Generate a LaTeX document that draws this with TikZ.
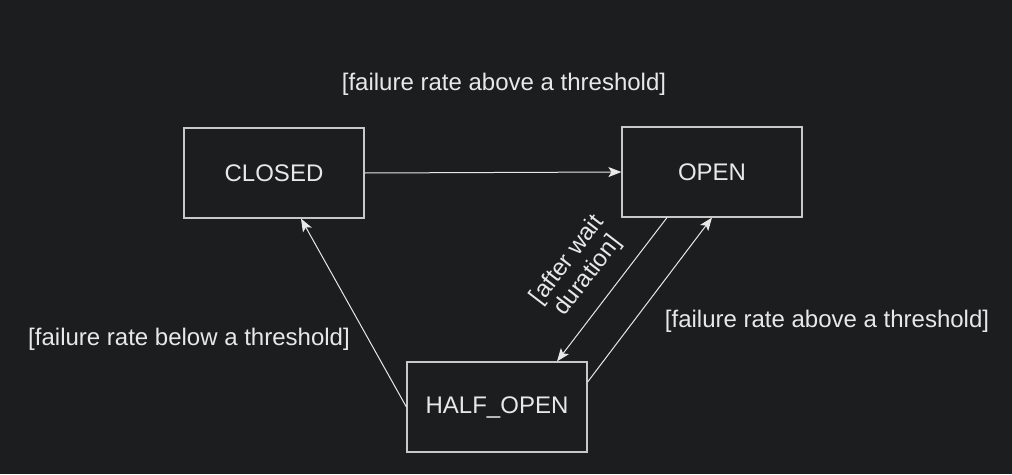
\documentclass[tikz,border=0pt]{standalone}
\usepackage{fontspec}
\setmainfont{Liberation Sans}
\usetikzlibrary{arrows.meta}
\definecolor{bg}{RGB}{28,29,31}
\definecolor{ink}{RGB}{232,232,232}
\definecolor{frame}{RGB}{200,200,200}
\tikzset{
  state/.style={draw=frame, line width=1.2pt, minimum width=180pt, minimum height=90pt, text=ink, font=\fontsize{24}{27}\selectfont},
  trans/.style={draw=ink, line width=1pt, -{Stealth[length=13pt,width=10pt,inset=3pt]}},
  guard/.style={text=ink, font=\fontsize{24}{26}\selectfont, inner sep=0pt}
}
\begin{document}
\begin{tikzpicture}[x=1pt,y=-1pt]
\fill[bg] (0,0) rectangle (1012,474);
\useasboundingbox (0,0) rectangle (1012,474);

\node[state] (closed) at (274,173) {CLOSED};
\node[state] (open) at (712,172) {OPEN};
\node[state] (half) at (497,407) {HALF\_OPEN};

\draw[trans] (closed.east) -- (open.west);
\draw[trans] ([xshift=-45pt]open.south) -- ([xshift=60pt]half.north);
\draw[trans] ([yshift=25pt]half.east) -- (open.south);
\draw[trans] (half.west) -- ([xshift=27pt]closed.south);

\node[guard] (g1) at (504,84) {[failure rate above a threshold]};
\node[guard] (g2) at (827,321) {[failure rate above a threshold]};
\node[guard] (g3) at (189,339) {[failure rate below a threshold]};
\node[guard, align=center, rotate=52.5] (g4) at (578,268) {[after wait\\duration]};
\end{tikzpicture}
\end{document}
